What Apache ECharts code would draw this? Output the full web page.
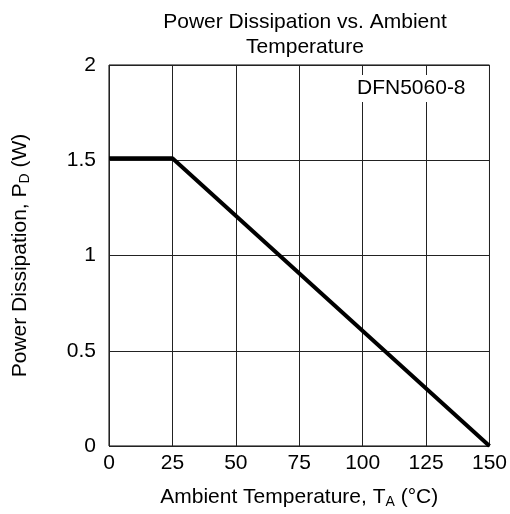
<!DOCTYPE html>
<html><head><meta charset="utf-8">
<script src="https://cdn.jsdelivr.net/npm/echarts@6/dist/echarts.min.js"></script>
<style>html,body{margin:0;padding:0;background:#fff}#c{width:510px;height:514px}</style>
</head><body><div id="c"></div>
<script>
const temps = [0, 25, 150];
const power = [1.51, 1.51, 0];
const xTicks = [0, 25, 50, 75, 100, 125, 150];
const yTicks = [0, 0.5, 1, 1.5, 2];
const F = '"Liberation Sans", Arial, sans-serif';
const FS = 21;
const chart = echarts.init(document.getElementById('c'));
chart.setOption({
  animation: false,
  backgroundColor: '#fff',
  title: {
    text: 'Power Dissipation vs. Ambient\nTemperature',
    left: 300, top: 5, textAlign: 'center',
    textStyle: {fontFamily: F, fontSize: FS, fontWeight: 'normal', color: '#000', lineHeight: 25}
  },
  grid: {left: 109, top: 65, right: 20, bottom: 68, show: true, borderColor: '#000', borderWidth: 1},
  xAxis: {
    type: 'value', min: 0, max: 150, interval: 25,
    axisLine: {show: false}, axisTick: {show: false},
    splitLine: {show: true, lineStyle: {color: '#222', width: 1}},
    axisLabel: {fontFamily: F, fontSize: FS, color: '#000', margin: 7},
    name: '{a|Ambient Temperature, T}{s|A}{a| (°C)}',
    nameLocation: 'middle', nameGap: 40,
    nameTextStyle: {rich: {a: {fontFamily: F, fontSize: FS, color: '#000'}, s: {fontFamily: F, fontSize: 14, color: '#000', verticalAlign: 'bottom', padding: [9, 0, 0, 0]}}}
  },
  yAxis: {
    type: 'value', min: 0, max: 2, interval: 0.5,
    axisLine: {show: false}, axisTick: {show: false},
    splitLine: {show: true, lineStyle: {color: '#222', width: 1}},
    axisLabel: {fontFamily: F, fontSize: FS, color: '#000', margin: 13},
    name: '{a|Power Dissipation, P}{s|D}{a| (W)}',
    nameLocation: 'middle', nameGap: 77, nameRotate: 90,
    nameTextStyle: {rich: {a: {fontFamily: F, fontSize: FS, color: '#000'}, s: {fontFamily: F, fontSize: 14, color: '#000', verticalAlign: 'bottom', padding: [9, 0, 0, 0]}}}
  },
  series: [{
    type: 'line', data: temps.map((t, i) => [t, power[i]]),
    symbol: 'none', lineStyle: {color: '#000', width: 4}, clip: false
  }],
  graphic: [{
    type: 'text', left: 353, top: 75, z: 100,
    style: {text: 'DFN5060-8', font: FS + 'px ' + F, fill: '#000', backgroundColor: '#fff', padding: [3, 4, 3, 4]}
  }]
});
</script></body></html>
